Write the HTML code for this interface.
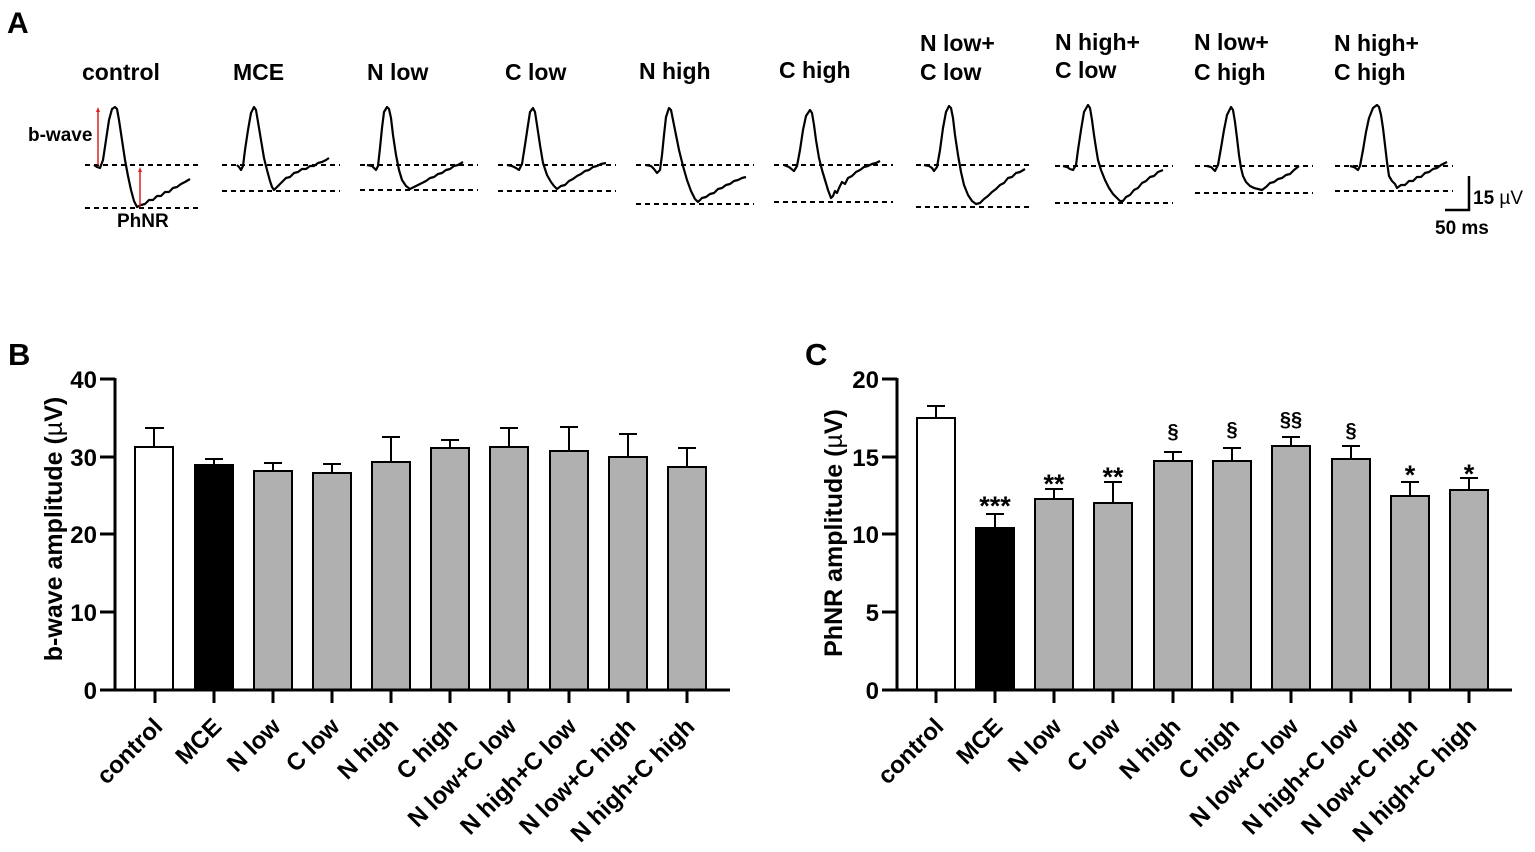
<!DOCTYPE html>
<html><head><meta charset="utf-8"><style>
html,body{margin:0;padding:0;background:#fff;}
svg{display:block;}
text{font-family:"Liberation Sans",Arial,sans-serif;}
</style></head><body>
<svg width="1535" height="852" viewBox="0 0 1535 852" xmlns="http://www.w3.org/2000/svg">
<rect width="1535" height="852" fill="#fff"/>
<!-- Panel letters -->
<text x="7" y="33" font-size="30" font-weight="bold">A</text>
<text x="8" y="365" font-size="31" font-weight="bold">B</text>
<text x="805" y="365" font-size="31" font-weight="bold">C</text>

<!-- Panel A labels -->
<g font-size="23" font-weight="bold" fill="#000">
<text x="82" y="80">control</text>
<text x="233" y="80">MCE</text>
<text x="367" y="80">N low</text>
<text x="505" y="80">C low</text>
<text x="639" y="79">N high</text>
<text x="779" y="78">C high</text>
<text x="920" y="51">N low+</text><text x="920" y="80">C low</text>
<text x="1055" y="50">N high+</text><text x="1055" y="78">C low</text>
<text x="1194" y="50">N low+</text><text x="1194" y="80">C high</text>
<text x="1334" y="51">N high+</text><text x="1334" y="80">C high</text>
</g>
<g font-size="19" font-weight="bold">
<text x="28" y="141">b-wave</text>
<text x="117" y="227">PhNR</text>
<text x="1473" y="204">15 <tspan font-weight="normal">µV</tspan></text>
<text x="1435" y="234">50 ms</text>
</g>
<!-- scale bar -->
<path d="M1469 176 L1469 210 L1445 210" fill="none" stroke="#000" stroke-width="2.5"/>

<!-- dashed lines -->
<g stroke="#000" stroke-width="2" stroke-dasharray="5 4" fill="none">
<path d="M85 165H202 M85 208H202"/>
<path d="M222 165H340 M222 191H340"/>
<path d="M360 165H478 M360 190H478"/>
<path d="M498 165H616 M498 191H616"/>
<path d="M636 165H754 M636 204H754"/>
<path d="M774 165H893 M774 202H893"/>
<path d="M916 165H1033 M916 207H1033"/>
<path d="M1055 166H1173 M1055 203H1173"/>
<path d="M1195 166H1313 M1195 193H1313"/>
<path d="M1335 166H1453 M1335 191H1453"/>
</g>
<!-- traces -->
<g stroke="#000" stroke-width="2.2" fill="none" stroke-linejoin="round">
<polyline points="94,165 97,167 100,168 103,160 106,140 109,120 112,109 115,107 117,109 119,120 122,140 125,160 128,176 131,190 134,201 137,207 141,205 145,204 149,200 153,200 157,196 161,196 165,192 169,192 173,188 177,187 181,184 185,182 190,179"/>
<polyline points="237,165 239,167 241,170 243,166 245,150 248,130 251,113 254,107 256,110 258,122 261,140 264,158 267,170 270,181 272,187 274,190 278,186 282,182 286,178 290,177 294,173 298,172 302,169 306,169 310,166 314,166 318,163 322,162 326,160 329,158"/>
<polyline points="367,165 372,166 376,170 378,166 380,148 382,128 384,112 387,107 389,109 391,118 393,135 396,155 399,170 402,180 406,186 410,189 414,187 418,185 422,183 426,181 430,178 434,177 438,174 442,173 446,170 450,169 454,166 458,165 463,162"/>
<polyline points="507,165 512,166 516,168 519,170 522,164 525,145 528,125 530,112 533,108 535,112 537,125 540,145 543,163 547,175 551,182 554,186 557,189 561,186 565,185 569,181 573,179 577,176 581,174 585,171 589,170 593,167 597,166 601,164 606,163"/>
<polyline points="646,165 651,166 654,169 657,173 660,170 662,155 664,135 666,117 669,108 671,110 673,120 676,135 679,150 683,166 687,180 691,191 695,199 698,202 702,198 706,197 710,194 714,193 718,189 722,188 726,185 730,184 734,181 738,180 742,178 746,177"/>
<polyline points="784,165 789,167 794,171 797,166 800,150 803,130 806,116 810,110 812,113 814,125 816,140 819,158 822,170 825,180 828,190 831,198 833,196 835,191 837,193 839,188 842,182 845,184 848,178 852,176 856,172 860,170 864,167 868,166 872,164 876,163 880,161"/>
<polyline points="924,165 929,166 932,168 934,171 937,167 940,150 943,128 946,112 949,106 951,108 953,118 955,135 958,155 961,172 964,185 968,195 972,201 976,204 980,203 984,199 988,196 992,192 996,189 1000,185 1004,183 1008,178 1012,177 1016,173 1020,172 1025,169"/>
<polyline points="1063,166 1067,167 1070,169 1073,170 1076,165 1078,150 1081,130 1084,112 1088,105 1090,108 1092,120 1094,135 1096,148 1098,160 1101,170 1105,180 1109,188 1113,194 1117,198 1120,201 1123,201 1126,197 1130,195 1134,190 1138,188 1142,183 1146,181 1150,177 1154,176 1158,172 1163,170"/>
<polyline points="1207,166 1211,167 1215,171 1218,165 1221,148 1224,130 1227,115 1231,107 1233,110 1235,122 1237,138 1239,155 1241,168 1243,176 1246,182 1250,186 1254,188 1258,189 1262,190 1266,187 1270,183 1274,182 1278,179 1282,178 1286,175 1290,174 1294,170 1299,166"/>
<polyline points="1350,166 1354,167 1358,170 1360,166 1363,150 1366,132 1369,118 1373,108 1377,105 1379,107 1381,115 1383,128 1385,145 1387,162 1389,176 1392,181 1395,184 1397,188 1401,185 1405,185 1409,181 1413,181 1417,177 1421,177 1425,173 1429,172 1433,169 1437,168 1441,165 1447,162"/>
</g>
<!-- red arrows -->
<g stroke="#e0201f" stroke-width="1.5" fill="#e0201f">
<line x1="98" y1="165" x2="98" y2="110"/>
<path d="M98 107 L96 112 L100 112 Z" stroke="none"/>
<line x1="140" y1="207" x2="140" y2="170"/>
<path d="M140 167 L138 172 L142 172 Z" stroke="none"/>
</g>

<!-- ===== Panel B ===== -->
<g stroke="#000" stroke-width="2">
<rect x="135" y="447" width="38" height="243" fill="#fff"/>
<rect x="195" y="465" width="38" height="225" fill="#000"/>
<rect x="254" y="471" width="38" height="219" fill="#b0b0b0"/>
<rect x="313" y="473" width="38" height="217" fill="#b0b0b0"/>
<rect x="372" y="462" width="38" height="228" fill="#b0b0b0"/>
<rect x="431" y="448" width="38" height="242" fill="#b0b0b0"/>
<rect x="490" y="447" width="38" height="243" fill="#b0b0b0"/>
<rect x="550" y="451" width="38" height="239" fill="#b0b0b0"/>
<rect x="609" y="457" width="38" height="233" fill="#b0b0b0"/>
<rect x="668" y="467" width="38" height="223" fill="#b0b0b0"/>
<path fill="none" d="M154 447V428M145 428H164 M214 465V459M205 459H223 M273 471V463M264 463H282 M332 473V464M323 464H341 M391 462V437M382 437H400 M450 448V440M441 440H459 M509 447V428M500 428H518 M569 451V427M560 427H578 M628 457V434M619 434H637 M687 467V448M678 448H696"/>
</g>
<g stroke="#000" stroke-width="3" fill="none">
<path d="M115 378V691.5"/>
<path d="M100 690H730"/>
<path d="M100 379H115M100 457H115M100 534H115M100 612H115"/>
<path d="M155 690V703M214 690V703M273 690V703M332 690V703M391 690V703M450 690V703M509 690V703M569 690V703M628 690V703M687 690V703"/>
</g>
<g font-size="24" font-weight="bold" text-anchor="end">
<text x="97" y="388">40</text>
<text x="97" y="466">30</text>
<text x="97" y="543">20</text>
<text x="97" y="621">10</text>
<text x="97" y="699">0</text>
</g>
<text transform="translate(62,529) rotate(-90)" text-anchor="middle" font-size="25" font-weight="bold">b-wave amplitude (<tspan font-weight="normal">µ</tspan>V)</text>
<g font-size="24" font-weight="bold" text-anchor="end">
<text transform="translate(164,728) rotate(-45)">control</text>
<text transform="translate(223,728) rotate(-45)">MCE</text>
<text transform="translate(282,728) rotate(-45)">N low</text>
<text transform="translate(341,728) rotate(-45)">C low</text>
<text transform="translate(400,728) rotate(-45)">N high</text>
<text transform="translate(459,728) rotate(-45)">C high</text>
<text transform="translate(518,728) rotate(-45)">N low+C low</text>
<text transform="translate(578,728) rotate(-45)">N high+C low</text>
<text transform="translate(637,728) rotate(-45)">N low+C high</text>
<text transform="translate(696,728) rotate(-45)">N high+C high</text>
</g>

<!-- ===== Panel C ===== -->
<g stroke="#000" stroke-width="2">
<rect x="917" y="418" width="38" height="272" fill="#fff"/>
<rect x="976" y="528" width="38" height="162" fill="#000"/>
<rect x="1035" y="499" width="38" height="191" fill="#b0b0b0"/>
<rect x="1094" y="503" width="38" height="187" fill="#b0b0b0"/>
<rect x="1154" y="461" width="38" height="229" fill="#b0b0b0"/>
<rect x="1213" y="461" width="38" height="229" fill="#b0b0b0"/>
<rect x="1272" y="446" width="38" height="244" fill="#b0b0b0"/>
<rect x="1332" y="459" width="38" height="231" fill="#b0b0b0"/>
<rect x="1391" y="496" width="38" height="194" fill="#b0b0b0"/>
<rect x="1450" y="490" width="38" height="200" fill="#b0b0b0"/>
<path fill="none" d="M936 418V406M927 406H945 M995 528V514M986 514H1004 M1054 499V489M1045 489H1063 M1113 503V482M1104 482H1122 M1173 461V452M1164 452H1182 M1232 461V448M1223 448H1241 M1291 446V437M1282 437H1300 M1351 459V446M1342 446H1360 M1410 496V482M1401 482H1419 M1469 490V478M1460 478H1478"/>
</g>
<g stroke="#000" stroke-width="3" fill="none">
<path d="M897 378V691.5"/>
<path d="M882 690H1512"/>
<path d="M882 379H897M882 457H897M882 534H897M882 612H897"/>
<path d="M936 690V703M995 690V703M1054 690V703M1113 690V703M1173 690V703M1232 690V703M1291 690V703M1351 690V703M1410 690V703M1469 690V703"/>
</g>
<g font-size="24" font-weight="bold" text-anchor="end">
<text x="879" y="388">20</text>
<text x="879" y="466">15</text>
<text x="879" y="543">10</text>
<text x="879" y="621">5</text>
<text x="879" y="699">0</text>
</g>
<text transform="translate(842,533) rotate(-90)" text-anchor="middle" font-size="25" font-weight="bold">PhNR amplitude (<tspan font-weight="normal">µ</tspan>V)</text>
<g font-size="24" font-weight="bold" text-anchor="end">
<text transform="translate(945,728) rotate(-45)">control</text>
<text transform="translate(1004,728) rotate(-45)">MCE</text>
<text transform="translate(1063,728) rotate(-45)">N low</text>
<text transform="translate(1122,728) rotate(-45)">C low</text>
<text transform="translate(1182,728) rotate(-45)">N high</text>
<text transform="translate(1241,728) rotate(-45)">C high</text>
<text transform="translate(1300,728) rotate(-45)">N low+C low</text>
<text transform="translate(1360,728) rotate(-45)">N high+C low</text>
<text transform="translate(1419,728) rotate(-45)">N low+C high</text>
<text transform="translate(1478,728) rotate(-45)">N high+C high</text>
</g>
<!-- significance -->
<g font-size="27" font-weight="bold" text-anchor="middle">
<text x="995" y="515">***</text>
<text x="1054" y="493">**</text>
<text x="1113" y="486">**</text>
<text x="1410" y="484">*</text>
<text x="1469" y="483">*</text>
</g>
<g font-size="20" font-weight="bold" text-anchor="middle">
<text x="1173" y="438">§</text>
<text x="1232" y="436">§</text>
<text x="1291" y="426">§§</text>
<text x="1351" y="437">§</text>
</g>
</svg>
</body></html>
